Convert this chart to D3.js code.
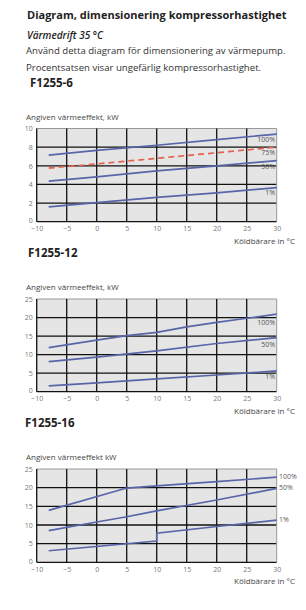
<!DOCTYPE html>
<html>
<head>
<meta charset="utf-8">
<script src="https://cdn.jsdelivr.net/npm/d3@7"></script>
<style>
  body { margin: 0; background: #fff; }
  text { font-family: "Open Sans", "Noto Sans", sans-serif; }
</style>
</head>
<body>
<script>
// values: [köldbärare °C, kW]
const xTicks = [-10, -5, 0, 5, 10, 15, 20, 25, 30];

const f6_100 = [[-8, 7.15], [0, 7.65], [10, 8.2], [20, 8.8], [30, 9.4]];
const f6_75 = [[-8, 5.75], [0, 6.2], [10, 6.8], [20, 7.4], [30, 8.0]];
const f6_50 = [[-8, 4.35], [0, 4.8], [10, 5.45], [20, 6.0], [30, 6.55]];
const f6_1 = [[-8, 1.6], [0, 2.05], [10, 2.6], [20, 3.1], [30, 3.65]];

const f12_100 = [[-8, 11.9], [0, 13.9], [5, 15.1], [10, 16.0], [15, 17.5], [20, 18.7], [25, 19.8], [30, 20.9]];
const f12_50 = [[-8, 8.1], [0, 9.35], [10, 11.0], [20, 13.0], [30, 14.6]];
const f12_1 = [[-8, 1.55], [0, 2.4], [10, 3.45], [20, 4.5], [30, 5.6]];

const f16_100 = [[-8, 13.9], [5, 19.9], [10, 20.5], [20, 21.6], [30, 22.8]];
const f16_50 = [[-8, 8.5], [0, 10.8], [5, 12.2], [10, 13.8], [20, 16.7], [30, 19.8]];
const f16_1 = [[-8, 3.1], [10, 5.7], [10, 7.8], [20, 9.6], [30, 11.3]];

const W = 306, H = 610;
const svg = d3.select("body").append("svg")
  .attr("width", W)
  .attr("height", H);

// header texts
svg.append("text").attr("x", 27).attr("y", 19)
  .attr("font-size", 11).attr("font-weight", "bold").attr("fill", "#222")
  .text("Diagram, dimensionering kompressorhastighet");
svg.append("text").attr("x", 27).attr("y", 39)
  .attr("font-size", 10).attr("font-weight", 600).attr("font-style", "italic").attr("fill", "#222")
  .text("Värmedrift 35 °C");
svg.append("text").attr("x", 26).attr("y", 54)
  .attr("font-size", 9.6).attr("fill", "#333")
  .text("Använd detta diagram för dimensionering av värmepump.");
svg.append("text").attr("x", 26).attr("y", 71)
  .attr("font-size", 9.6).attr("fill", "#333")
  .text("Procentsatsen visar ungefärlig kompressorhastighet.");

const x0 = 36.7, x1 = 276.7;

function chart(opt) {
  const x = d3.scaleLinear().domain([-10, 30]).range([x0, x1]);
  const y = d3.scaleLinear().domain([0, opt.ymax]).range([opt.bottom, opt.top]);
  const g = svg.append("g");

  g.append("text").attr("x", opt.titleX).attr("y", opt.top - 42)
    .attr("font-size", 11.5).attr("font-weight", "bold").attr("fill", "#222")
    .text(opt.title);
  g.append("text").attr("x", 26).attr("y", opt.top - 9)
    .attr("font-size", 8).attr("fill", "#444")
    .text(opt.ylabel);

  g.append("rect")
    .attr("x", x0).attr("y", opt.top)
    .attr("width", x1 - x0).attr("height", opt.bottom - opt.top)
    .attr("fill", "#e5e5e5");

  const yTicks = d3.range(0, opt.ymax + 0.001, opt.ystep);
  g.selectAll(".hg").data(yTicks).join("line")
    .attr("x1", x0).attr("x2", x1)
    .attr("y1", d => y(d)).attr("y2", d => y(d))
    .attr("stroke", d => d === opt.ymax ? "#999" : "#111")
    .attr("stroke-width", d => d === opt.ymax ? 1 : 1.3);
  g.selectAll(".vg").data(xTicks).join("line")
    .attr("x1", d => x(d)).attr("x2", d => x(d))
    .attr("y1", opt.top).attr("y2", opt.bottom)
    .attr("stroke", d => d === 30 ? "#999" : "#111")
    .attr("stroke-width", d => d === 30 ? 1 : 1.3);

  // axes labels
  const xa = g.append("g").attr("transform", `translate(0,${opt.bottom})`)
    .call(d3.axisBottom(x).tickValues(xTicks).tickSize(0).tickPadding(4.5));
  const ya = g.append("g").attr("transform", `translate(${x0},0)`)
    .call(d3.axisLeft(y).tickValues(yTicks).tickSize(0).tickPadding(4));
  [xa, ya].forEach(a => {
    a.select(".domain").remove();
    a.selectAll("text").attr("font-size", 7).attr("fill", "#777")
      .attr("font-family", "'Open Sans', sans-serif");
  });
  // lift the y "0" a touch so it clears the "-10" below it
  ya.selectAll(".tick").filter(d => d === 0).select("text").attr("dy", "0.1em");

  g.append("text").attr("x", 295).attr("y", opt.bottom + 22)
    .attr("text-anchor", "end").attr("font-size", 8).attr("fill", "#444")
    .text("Köldbärare in °C");

  const line = d3.line().x(d => x(d[0])).y(d => y(d[1]));
  opt.series.forEach(s => {
    g.append("path").datum(s.data)
      .attr("d", line)
      .attr("fill", "none")
      .attr("stroke", s.dash ? "#e5614f" : "#5865a8")
      .attr("stroke-width", 1.7)
      .attr("stroke-dasharray", s.dash ? "6,4" : null);
    g.append("text")
      .attr("x", opt.labelsOutside ? 279 : 275)
      .attr("y", s.ly)
      .attr("dy", "0.35em")
      .attr("text-anchor", opt.labelsOutside ? "start" : "end")
      .attr("font-size", 7).attr("fill", "#555")
      .text(s.label);
  });
}

chart({
  title: "F1255-6", titleX: 30, ylabel: "Angiven värmeeffekt, kW",
  top: 128.5, bottom: 221.7, ymax: 10, ystep: 2,
  series: [
    { data: f6_100, label: "100%", ly: 139.5 },
    { data: f6_75, label: "75%", ly: 153, dash: true },
    { data: f6_50, label: "50%", ly: 166.5 },
    { data: f6_1, label: "1%", ly: 193 }
  ]
});

chart({
  title: "F1255-12", titleX: 28, ylabel: "Angiven värmeeffekt, kW",
  top: 299, bottom: 391.7, ymax: 25, ystep: 5,
  series: [
    { data: f12_100, label: "100%", ly: 323 },
    { data: f12_50, label: "50%", ly: 345 },
    { data: f12_1, label: "1%", ly: 377 }
  ]
});

chart({
  title: "F1255-16", titleX: 25, ylabel: "Angiven värmeeffekt kW",
  top: 469, bottom: 562.3, ymax: 25, ystep: 5, labelsOutside: true,
  series: [
    { data: f16_100, label: "100%", ly: 476.7 },
    { data: f16_50, label: "50%", ly: 487.5 },
    { data: f16_1, label: "1%", ly: 519.5 }
  ]
});
</script>
</body>
</html>
